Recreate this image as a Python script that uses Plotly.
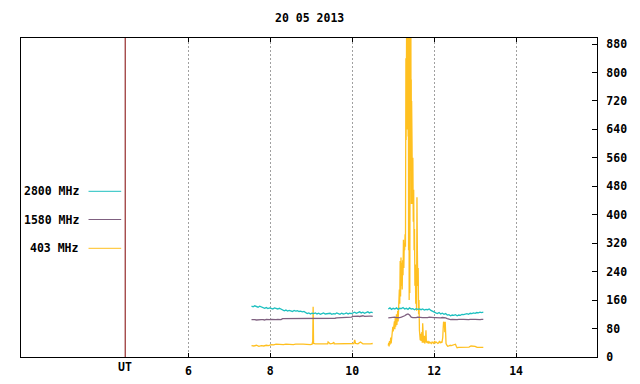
import plotly.graph_objects as go

# ---------------- data ----------------
title_text = "20 05 2013"
series_names = ["2800 MHz", "1580 MHz", "403 MHz"]
series_colors = ["#1ec0c0", "#7f6080", "#ffc020"]

x_tick_vals = [6, 8, 10, 12, 14]
x_tick_text = ["6", "8", "10", "12", "14"]
y_tick_vals = [0, 80, 160, 240, 320, 400, 480, 560, 640, 720, 800, 880]
ut_label = "UT"
ut_hour = 4.456

# segment 1 sampling times (UT hours) for 2800 / 1580 MHz
t_seg1 = [7.54, 7.58, 7.62, 7.66, 7.70, 7.74, 7.78, 7.82, 7.86, 7.90,
          7.94, 7.98, 8.02, 8.06, 8.10, 8.14, 8.18, 8.22, 8.26, 8.30,
          8.34, 8.38, 8.42, 8.46, 8.50, 8.54, 8.58, 8.62, 8.66, 8.70,
          8.74, 8.78, 8.82, 8.86, 8.90, 8.94, 8.98, 9.02, 9.06, 9.10,
          9.14, 9.18, 9.22, 9.26, 9.30, 9.34, 9.38, 9.42, 9.46, 9.50,
          9.54, 9.58, 9.62, 9.66, 9.70, 9.74, 9.78, 9.82, 9.86, 9.90,
          9.94, 9.98, 10.02, 10.06, 10.10, 10.14, 10.18, 10.22, 10.26, 10.30,
          10.34, 10.38, 10.42, 10.46, 10.50]
# segment 2 sampling times for 2800 / 1580 MHz
t_seg2 = [10.88, 10.92, 10.96, 11.00, 11.04, 11.08, 11.12, 11.16, 11.20, 11.24,
          11.28, 11.32, 11.36, 11.40, 11.44, 11.48, 11.52, 11.56, 11.60, 11.64,
          11.68, 11.72, 11.76, 11.80, 11.84, 11.88, 11.92, 11.96, 12.00, 12.04,
          12.08, 12.12, 12.16, 12.20, 12.24, 12.28, 12.32, 12.36, 12.40, 12.44,
          12.48, 12.52, 12.56, 12.60, 12.64, 12.68, 12.72, 12.76, 12.80, 12.84,
          12.88, 12.92, 12.96, 13.00, 13.04, 13.08, 13.12, 13.16, 13.20]

f2800_seg1 = [143, 141, 144, 142, 140, 143, 141, 138, 137, 139,
              136, 138, 137, 135, 138, 136, 135, 137, 134, 131,
              130, 132, 129, 131, 130, 128, 131, 129, 130, 128,
              129, 127, 128, 124, 122, 124, 121, 123, 122, 124,
              121, 123, 120, 122, 124, 121, 122, 121, 123, 120,
              122, 121, 124, 122, 120, 123, 121, 122, 124, 121,
              123, 122, 124, 126, 123, 125, 127, 124, 126, 123,
              125, 127, 124, 126, 125]
f2800_seg2 = [135, 138, 134, 137, 135, 138, 134, 137, 136, 139,
              135, 137, 134, 138, 135, 136, 133, 136, 134, 135,
              133, 135, 132, 134, 133, 135, 131, 128, 125, 124,
              122, 125, 121, 123, 120, 122, 118, 119, 116, 118,
              117, 119, 116, 118, 117, 120, 119, 121, 122, 120,
              123, 122, 124, 123, 125, 124, 126, 125, 126]

f1580_seg1 = [105, 106, 105, 104, 105, 106, 105, 105, 104, 106,
              105, 105, 106, 105, 104, 105, 106, 105, 105, 108,
              108, 107, 108, 109, 108, 108, 107, 108, 108, 109,
              108, 108, 107, 108, 108, 109, 108, 108, 107, 108,
              108, 109, 108, 108, 107, 108, 108, 109, 108, 108,
              108, 109, 110, 110, 111, 110, 111, 111, 110, 111,
              111, 112, 114, 115, 114, 115, 114, 115, 116, 114,
              115, 114, 115, 115, 114]
f1580_seg2 = [110, 111, 110, 111, 112, 111, 110, 111, 112, 113,
              116, 119, 121, 118, 112, 111, 110, 111, 112, 111,
              110, 111, 111, 110, 111, 112, 111, 110, 111, 111,
              110, 111, 110, 111, 111, 110, 108, 106, 105, 106,
              105, 106, 105, 106, 105, 106, 106, 105, 106, 105,
              106, 105, 106, 106, 105, 106, 105, 106, 106]

# 403 MHz has its own time stamps
t403_seg1 = [7.54, 7.60, 7.66, 7.72, 7.78, 7.84, 7.90, 7.96, 8.02, 8.08,
             8.14, 8.20, 8.26, 8.32, 8.38, 8.44, 8.50, 8.56, 8.62, 8.68,
             8.74, 8.80, 8.86, 8.92, 8.98, 9.02, 9.035, 9.045, 9.055, 9.10,
             9.16, 9.22, 9.28, 9.34, 9.40, 9.41, 9.46, 9.52, 9.55, 9.56,
             9.62, 9.68, 9.74, 9.80, 9.86, 9.92, 9.98, 10.04, 10.06, 10.08,
             10.14, 10.20, 10.26, 10.32, 10.38, 10.44, 10.50]
f403_seg1 = [32, 31, 33, 30, 32, 31, 33, 32, 35, 34,
             36, 35, 36, 35, 36, 35, 36, 35, 36, 35,
             36, 36, 35, 36, 35, 36, 45, 141, 38, 37,
             37, 38, 37, 37, 37, 42, 37, 38, 42, 37,
             37, 38, 37, 37, 38, 37, 37, 38, 48, 38,
             37, 42, 37, 38, 37, 37, 38]
t403_seg2 = [10.88, 10.89, 10.90, 10.91, 10.92, 10.93, 10.94, 10.95, 10.96, 10.97,
             10.98, 10.99, 11.00, 11.01, 11.02, 11.03, 11.04, 11.05, 11.06, 11.07,
             11.08, 11.09, 11.10, 11.11, 11.12, 11.13, 11.14, 11.15, 11.16, 11.17,
             11.18, 11.19, 11.20, 11.21, 11.22, 11.23, 11.24, 11.25, 11.26, 11.27,
             11.28, 11.29, 11.30, 11.31, 11.315, 11.32, 11.325, 11.33, 11.335, 11.34,
             11.345, 11.35, 11.355, 11.36, 11.365, 11.37, 11.375, 11.38, 11.385, 11.39,
             11.395, 11.40, 11.405, 11.41, 11.415, 11.42, 11.425, 11.43, 11.435, 11.44,
             11.445, 11.45, 11.455, 11.46, 11.47, 11.48, 11.49, 11.50, 11.51, 11.52,
             11.53, 11.54, 11.55, 11.56, 11.57, 11.58, 11.585, 11.59, 11.60, 11.61,
             11.62, 11.63, 11.64, 11.65, 11.66, 11.67, 11.68, 11.70, 11.71, 11.72,
             11.73, 11.74, 11.76, 11.77, 11.79, 11.80, 11.81, 11.83, 11.85, 11.87,
             11.89, 11.91, 11.93, 11.95, 11.97, 11.99, 12.01, 12.03, 12.05, 12.07,
             12.09, 12.11, 12.13, 12.15, 12.17, 12.19, 12.21, 12.22, 12.23, 12.25,
             12.26, 12.27, 12.28, 12.29, 12.31, 12.33, 12.36, 12.39, 12.42, 12.45,
             12.49, 12.52, 12.54, 12.56, 12.60, 12.65, 12.70, 12.75, 12.80, 12.85,
             12.90, 12.95, 13.00, 13.05, 13.10, 13.15, 13.20]
f403_seg2 = [32, 40, 30, 45, 35, 42, 55, 38, 50, 70,
             60, 85, 72, 95, 80, 100, 78, 110, 85, 95,
             120, 90, 105, 130, 100, 140, 115, 190, 150, 270,
             170, 280, 200, 265, 190, 272, 230, 330, 250, 320,
             300, 345, 310, 840, 610, 850, 620, 990, 640, 1100,
             900, 1200, 700, 1150, 620, 1000, 300, 1050, 610, 160,
             620, 950, 180, 900, 620, 1000, 780, 1080, 610, 780,
             430, 720, 480, 600, 430, 560, 380, 470, 300, 360,
             200, 260, 150, 190, 130, 449, 150, 300, 200, 250,
             120, 160, 75, 60, 47, 65, 45, 70, 40, 95,
             50, 40, 60, 38, 48, 75, 42, 40, 45, 38,
             42, 40, 38, 42, 40, 38, 45, 40, 42, 40,
             38, 40, 45, 40, 42, 40, 55, 80, 99, 95,
             70, 99, 50, 38, 33, 30, 31, 33, 32, 33,
             34, 36, 30, 26, 27, 27, 26, 27, 27, 28,
             31, 31, 30, 27, 27, 28, 27]

# ---------------- figure ----------------
MONO = "DejaVu Sans Mono"
W, H = 640, 384
L, R, T, B = 20.7, 597.3, 38, 357


def px_to_paper_x(px):
    return (px - L) / (R - L)


def px_to_paper_y(py):
    return (B - py) / (B - T)


fig = go.Figure()

series = [
    (t403_seg1 + [None] + t403_seg2, f403_seg1 + [None] + f403_seg2, 2),
    (t_seg1 + [None] + t_seg2, f1580_seg1 + [None] + f1580_seg2, 1),
    (t_seg1 + [None] + t_seg2, f2800_seg1 + [None] + f2800_seg2, 0),
]
for xs, ys, idx in series:
    fig.add_trace(go.Scatter(
        x=xs, y=ys, mode="lines", name=series_names[idx],
        line=dict(color=series_colors[idx], width=1.3),
        connectgaps=False, showlegend=False, hoverinfo="skip"))

# UT marker line
fig.add_shape(type="line", xref="x", yref="paper", x0=ut_hour, x1=ut_hour,
              y0=0, y1=1, line=dict(color="#7f0000", width=1), layer="above")

font_b = dict(family=MONO, size=11.5, color="black", weight="bold")
annotations = [
    dict(text=title_text, xref="paper", yref="paper", x=0.5,
         y=px_to_paper_y(18), xanchor="center", yanchor="middle",
         showarrow=False, font=font_b),
    dict(text=ut_label, xref="x", yref="paper", x=ut_hour,
         y=px_to_paper_y(367.5), xanchor="center", yanchor="middle",
         showarrow=False, font=font_b),
]

legend_y_px = [191.3, 219.5, 248.3]
for i, name in enumerate(series_names):
    yp = px_to_paper_y(legend_y_px[i])
    annotations.append(dict(text=name, xref="paper", yref="paper",
                            x=px_to_paper_x(81), y=yp, xanchor="right", yanchor="middle",
                            showarrow=False, font=font_b))
    fig.add_shape(type="line", xref="paper", yref="paper",
                  x0=px_to_paper_x(88.3), x1=px_to_paper_x(121), y0=yp, y1=yp,
                  line=dict(color=series_colors[i], width=1))

fig.update_layout(
    width=W, height=H,
    margin=dict(l=L, r=W - R, t=T, b=H - B, pad=0),
    paper_bgcolor="white", plot_bgcolor="white",
    annotations=annotations,
    showlegend=False,
    hovermode=False,
    xaxis=dict(range=[1.912, 15.976], tickvals=x_tick_vals, ticktext=x_tick_text,
               ticks="inside", ticklen=4, tickcolor="black", tickwidth=1,
               showline=True, linecolor="black", linewidth=1, mirror="ticks",
               showgrid=True, gridcolor="#a0a0a0", gridwidth=1, griddash="2px,2px",
               zeroline=False, ticklabelstandoff=3, tickfont=font_b, automargin=False),
    yaxis=dict(range=[0, 897], tickvals=y_tick_vals, side="right",
               ticks="inside", ticklen=5, tickcolor="black", tickwidth=1,
               showline=True, linecolor="black", linewidth=1, mirror=True,
               showgrid=False, zeroline=False, ticklabelstandoff=6, tickfont=font_b,
               automargin=False),
)

# remove the browser's default page margin so the figure fills the 640x384 window
fig.write_html("out.html", config={"displayModeBar": False},
               post_script="document.body.style.margin='0';")
